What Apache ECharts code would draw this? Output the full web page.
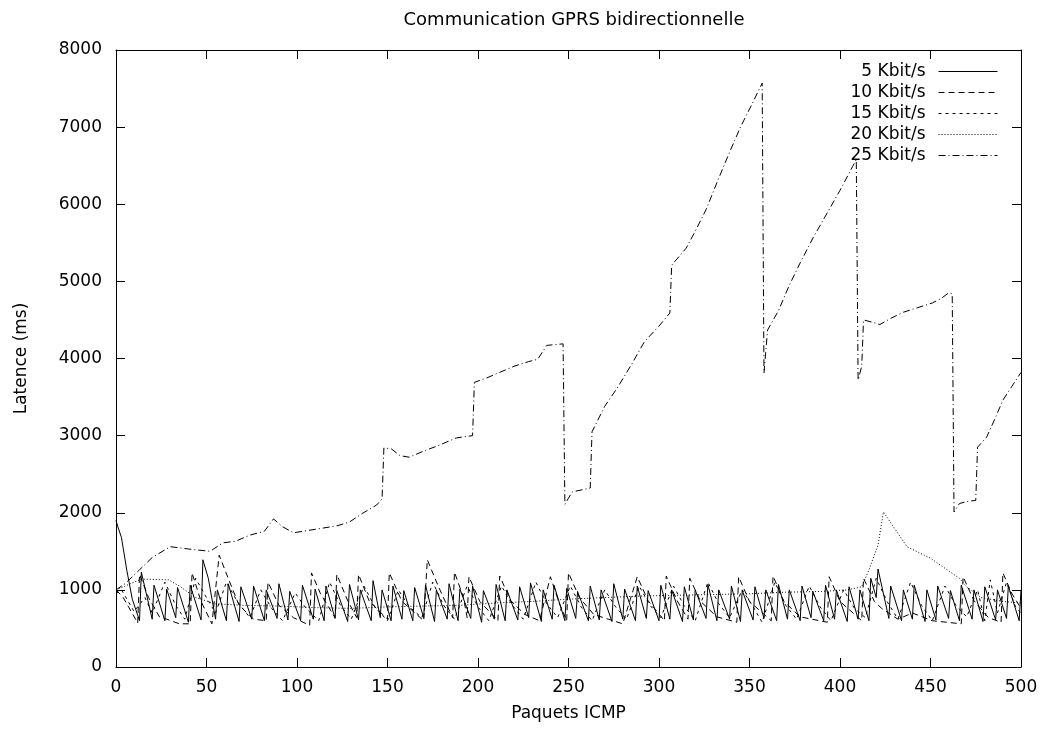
<!DOCTYPE html>
<html>
<head>
<meta charset="utf-8">
<script src="https://cdn.jsdelivr.net/npm/echarts@6/dist/echarts.min.js"></script>
<style>
  html, body { margin: 0; padding: 0; background: #fff; }
  #chart { width: 1043px; height: 729px; }
</style>
</head>
<body>
<div id="chart"></div>
<script>
// Latency (ms) per ICMP packet index, one list of [packet, latency] per link rate
const seriesNames = ['5 Kbit/s', '10 Kbit/s', '15 Kbit/s', '20 Kbit/s', '25 Kbit/s'];

const kbit5 = [
  [0,1900],[1,1820],[3,1680],[6,1250],[9,880],[13,600],
  [14,1230],[20,620],[21,1060],[27,600],[28,1010],[33,640],[34,1030],[40,580],
  [41,1060],[47,610],[48,1390],[51,1150],[55,620],[56,1000],[61,600],[62,1080],[68,590],
  [69,1040],[75,620],[76,1050],[82,600],[83,1000],[89,630],[90,1080],[95,610],
  [96,980],[102,600],[103,1060],[109,620],[110,1010],[115,600],[116,1050],[121,630],
  [122,990],[128,590],[129,1070],[134,610],[135,1000],[141,600],[142,1120],[146,640],
  [147,1000],[152,600],[153,1050],[158,620],[159,990],[164,600],[165,1030],[170,640],
  [171,1060],[176,590],[177,1000],[183,620],[184,1080],[189,600],[190,1010],[196,630],
  [197,1050],[202,580],[203,990],[209,620],[210,1070],[215,600],[216,1000],[222,610],
  [223,1040],[228,640],[229,1090],[235,590],[236,1000],[241,620],[242,1060],[248,600],
  [249,1020],[254,630],[255,980],[261,600],[262,1050],[267,610],[268,1000],[274,590],
  [275,1080],[280,620],[281,1010],[287,600],[288,1050],[293,630],[294,990],[300,600],
  [301,1060],[306,620],[307,1000],[313,590],[314,1040],[319,610],[320,1000],[326,630],
  [327,1070],[332,600],[333,1000],[339,620],[340,1050],[345,590],[346,990],[352,610],
  [353,1040],[358,630],[359,1000],[365,600],[366,1070],[371,620],[372,1000],[378,600],
  [379,1050],[384,640],[385,980],[391,600],[392,1060],[397,620],[398,1000],[404,590],
  [405,1040],[410,620],[411,1000],[416,600],[417,1150],[420,900],[421,1270],[427,630],
  [428,1050],[434,600],[435,1000],[440,620],[441,1060],[447,590],[448,1000],[453,610],
  [454,1050],[460,630],[461,990],[466,600],[467,1060],[473,620],[474,1000],[479,590],
  [480,1040],[486,610],[487,1000],[492,630],[493,1050],[499,600],[500,1000]
];

const kbit10 = [
  [0,1000],[4,900],[12,570],[13,1200],[18,900],[24,650],[28,620],[35,560],[41,560],
  [42,1220],[47,850],[53,560],[57,1450],[62,1150],[68,800],[76,620],[83,600],[84,1100],
  [90,800],[98,640],[107,540],[108,1220],[113,950],[121,640],[122,1200],[128,860],
  [133,640],[134,1200],[140,850],[150,620],[151,1220],[158,850],[170,600],[172,1390],
  [178,1050],[186,640],[187,1230],[192,900],[194,640],[195,1170],[201,850],[211,600],
  [212,1180],[218,860],[226,680],[234,600],[240,1170],[245,820],[249,600],[250,1220],
  [256,900],[264,680],[272,620],[280,560],[288,1170],[294,860],[303,600],[304,1180],
  [310,860],[316,620],[317,1150],[323,850],[332,650],[343,580],[344,1170],[350,850],
  [362,600],[363,1180],[369,850],[378,650],[393,580],[394,1170],[400,850],[412,600],
  [413,1150],[419,850],[423,760],[432,620],[440,700],[451,600],[467,560],[468,1170],
  [474,860],[482,640],[489,580],[490,1220],[495,950],[500,760]
];

const kbit15 = [
  [0,950],[3,1000],[10,720],[16,900],[20,700],[27,1100],[33,800],[38,620],[44,1150],
  [50,900],[55,700],[61,1100],[67,850],[74,640],[80,1000],[86,760],[92,600],[99,960],
  [105,760],[112,600],[118,1100],[124,800],[130,620],[137,1050],[143,780],[150,600],
  [156,1000],[162,780],[169,640],[175,1100],[181,800],[187,620],[194,1050],[200,780],
  [206,600],[213,1050],[219,800],[225,620],[232,1100],[238,820],[244,640],[251,1050],
  [257,780],[263,600],[270,1000],[276,780],[282,620],[289,1050],[295,800],[301,640],
  [308,1050],[314,790],[320,600],[327,1100],[333,820],[339,640],[346,1000],[352,780],
  [357,580],[364,1100],[370,800],[376,620],[383,1050],[389,780],[395,600],[402,1000],
  [408,760],[414,640],[420,1150],[426,850],[432,620],[439,1100],[445,800],[451,600],
  [458,1050],[464,800],[470,650],[476,1000],[480,600],[483,1130],[487,700],[492,1100],
  [497,780],[500,700]
];

const kbit20 = [
  [0,1000],[6,1060],[14,1140],[29,1130],[35,1050],[44,900],[55,820],[70,800],[90,790],
  [110,770],[130,760],[150,780],[170,790],[190,800],[210,830],[230,850],[250,880],
  [270,900],[290,920],[310,930],[330,940],[350,950],[370,970],[390,980],[404,1000],
  [412,1040],[416,1260],[421,1580],[424,2010],[437,1560],[450,1410],[466,1150],
  [470,1040],[478,900],[490,850],[500,830]
];

const kbit25 = [
  [0,1000],[5,1080],[13,1260],[20,1420],[30,1560],[40,1530],[52,1500],[59,1610],
  [66,1630],[74,1710],[82,1760],[87,1920],[92,1820],[98,1740],[106,1770],[114,1800],
  [122,1830],[129,1880],[136,1990],[144,2100],[147,2180],[148,2840],[152,2830],
  [157,2740],[162,2720],[170,2800],[178,2870],[188,2970],[197,3000],[198,3690],
  [205,3750],[212,3820],[220,3900],[228,3960],[233,3990],[238,4170],[247,4190],
  [248,2110],[252,2270],[262,2320],[263,3050],[270,3380],[277,3620],[285,3930],
  [292,4220],[300,4420],[306,4590],[307,5210],[315,5430],[320,5650],[326,5930],
  [332,6280],[338,6620],[345,7000],[351,7280],[357,7570],[358,3810],[360,4370],
  [366,4620],[372,4950],[378,5240],[385,5560],[393,5890],[400,6180],[407,6490],
  [409,6580],[410,3720],[412,3900],[413,4500],[418,4470],[422,4440],[428,4520],
  [435,4600],[443,4660],[451,4720],[456,4780],[460,4850],[462,4840],[463,2010],
  [466,2120],[471,2150],[475,2160],[476,2850],[481,2980],[486,3240],[490,3460],
  [495,3640],[500,3820]
];

const xTicks = { min: 0, max: 500, step: 50 };
const yTicks = { min: 0, max: 8000, step: 1000 };

const FONT = 'DejaVu Sans';
const dashes = ['solid', [6, 4], [3, 4], [1, 2], [7, 3, 1, 3]];
const allData = [kbit5, kbit10, kbit15, kbit20, kbit25];

const frame = { show: true, onZero: false, lineStyle: { color: '#000', width: 1 } };
const ticks = { show: true, inside: true, length: 9, lineStyle: { color: '#000', width: 1 } };
const labelStyle = { color: '#000', fontFamily: FONT, fontSize: 17 };
const plain = v => String(v);

const chart = echarts.init(document.getElementById('chart'), null, { renderer: 'canvas' });
chart.setOption({
  backgroundColor: '#fff',
  animation: false,
  title: {
    text: 'Communication GPRS bidirectionnelle',
    left: 569, top: 6, textAlign: 'center',
    textStyle: { color: '#000', fontFamily: FONT, fontSize: 18, fontWeight: 'normal' }
  },
  legend: {
    data: seriesNames,
    orient: 'vertical',
    right: 40, top: 58,
    align: 'right',
    itemWidth: 59, itemHeight: 12, itemGap: 4,
    itemStyle: { opacity: 0 },
    lineStyle: { opacity: 1, width: 1 },
    textStyle: { color: '#000', fontFamily: FONT, fontSize: 17, width: 90, align: 'right', padding: [0, 8, 0, 0] }
  },
  grid: { left: 116, right: 22, top: 50, bottom: 62, containLabel: false },
  xAxis: [
    {
      type: 'value', min: xTicks.min, max: xTicks.max, interval: xTicks.step,
      name: 'Paquets ICMP', nameLocation: 'middle', nameGap: 38,
      nameTextStyle: labelStyle,
      axisLine: frame, axisTick: ticks,
      axisLabel: Object.assign({ margin: 12, formatter: plain }, labelStyle),
      splitLine: { show: false }
    },
    {
      type: 'value', position: 'top', min: xTicks.min, max: xTicks.max, interval: xTicks.step,
      axisLine: frame, axisTick: ticks, axisLabel: { show: false }, splitLine: { show: false }
    }
  ],
  yAxis: [
    {
      type: 'value', min: yTicks.min, max: yTicks.max, interval: yTicks.step,
      name: 'Latence (ms)', nameLocation: 'middle', nameGap: 86,
      nameTextStyle: labelStyle,
      axisLine: frame, axisTick: ticks,
      axisLabel: Object.assign({ margin: 14, formatter: plain }, labelStyle),
      splitLine: { show: false }
    },
    {
      type: 'value', position: 'right', min: yTicks.min, max: yTicks.max, interval: yTicks.step,
      axisLine: frame, axisTick: ticks, axisLabel: { show: false }, splitLine: { show: false }
    }
  ],
  series: seriesNames.map((name, i) => ({
    name: name,
    type: 'line',
    xAxisIndex: 0, yAxisIndex: 0,
    data: allData[i],
    symbol: 'none',
    showSymbol: false,
    lineStyle: { color: '#000', width: 1, type: dashes[i] },
    itemStyle: { color: '#000' },
    z: 2 + i
  }))
});
</script>
</body>
</html>
